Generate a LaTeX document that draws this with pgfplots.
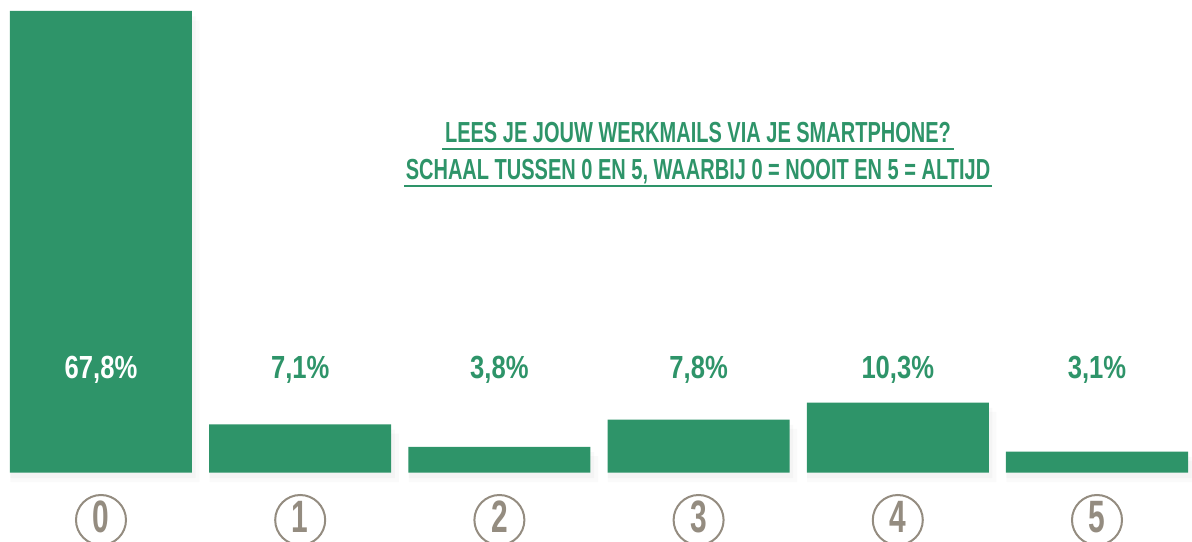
\documentclass[border=0pt]{standalone}
\usepackage{fontspec}
\setmainfont{Liberation Sans}
\newfontfamily\titlefont{Liberation Sans}[FakeStretch=0.69]
\newfontfamily\labfont{Liberation Sans}[FakeStretch=0.8]
\newfontfamily\digfont{Liberation Sans}[FakeStretch=0.66]
\usepackage{pgfplots}
\usepackage{pgfplotstable}
\pgfplotsset{compat=1.18}
\definecolor{barGreen}{HTML}{2E9469}
\definecolor{circGray}{HTML}{948C80}

\pgfplotstableread{
x y
0 67.8
1 7.1
2 3.8
3 7.8
4 10.3
5 3.1
}\datatable

\begin{document}
\begin{tikzpicture}
\useasboundingbox (0,0) rectangle (894pt,406.5pt);
\begin{axis}[
  at={(0,0)}, anchor=south west,
  scale only axis, width=894pt, height=406.5pt,
  xmin=-0.507, xmax=5.477, ymin=-10.18, ymax=69.41,
  clip=false,
  axis line style={draw=none}, tick style={draw=none},
  ytick=\empty,
  xtick={0,1,2,3,4,5},
  xticklabels={0,1,2,3,4,5},
  xticklabel style={circle, draw=circGray, line width=1.5pt,
    minimum size=37.5pt, inner sep=0pt, text=circGray,
    text height=24.5pt, text depth=5pt,
    anchor=center, yshift=16.5pt,
    font=\digfont\bfseries\fontsize{34pt}{36pt}\selectfont},
  /pgf/number format/assume math mode=true,
]
% soft shadow
\addplot[ybar, bar shift=0pt, bar width=0.93, fill=black, fill opacity=0.025, draw=none, xshift=1.5pt, yshift=-4pt] table[x=x,y=y]{\datatable};
\addplot[ybar, bar shift=0pt, bar width=0.95, fill=black, fill opacity=0.02, draw=none, xshift=3pt, yshift=-7pt] table[x=x,y=y]{\datatable};
\addplot[ybar, bar shift=0pt, bar width=0.9137, fill=barGreen, draw=none] table[x=x,y=y]{\datatable};
\addplot[draw=none, mark=none, point meta=explicit,
  visualization depends on={value \coordindex \as \idx},
  nodes near coords={\ifnum\idx=0 \color{white}\fi\pgfmathprintnumber[fixed,fixed zerofill,precision=1,use comma]{\pgfplotspointmeta}\%},
  nodes near coords align=center,
  every node near coord/.append style={anchor=center, text=barGreen,
    font=\labfont\bfseries\fontsize{24pt}{28pt}\selectfont}]
  table[x=x, y expr=15.08, meta=y]{\datatable};
\end{axis}
\node[anchor=base, text=barGreen, inner sep=0pt,
  font=\titlefont\bfseries\fontsize{21.75pt}{26pt}\selectfont] (t1) at (523.5pt,299.25pt) {LEES JE JOUW WERKMAILS VIA JE SMARTPHONE?};
\node[anchor=base, text=barGreen, inner sep=0pt,
  font=\titlefont\bfseries\fontsize{21.75pt}{26pt}\selectfont] (t2) at (523.5pt,271.5pt) {SCHAAL TUSSEN 0 EN 5, WAARBIJ 0 = NOOIT EN 5 = ALTIJD};
\draw[barGreen, line width=1.5pt] ([shift={(-2pt,-4.5pt)}]t1.base west) -- ([shift={(2pt,-4.5pt)}]t1.base east);
\draw[barGreen, line width=1.5pt] ([shift={(-1pt,-4.5pt)}]t2.base west) -- ([shift={(1pt,-4.5pt)}]t2.base east);
\end{tikzpicture}
\end{document}
